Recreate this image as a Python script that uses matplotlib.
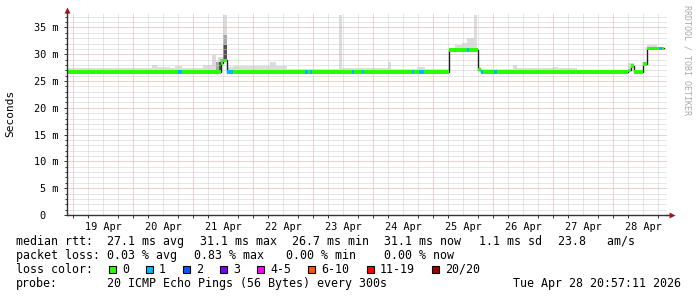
import numpy as np
import matplotlib
matplotlib.use("Agg")
import matplotlib.pyplot as plt
from matplotlib.patches import Rectangle

# time is in hours since 19 Apr 00:00; graph covers 240 h up to 28 Apr 20:57
t_left, t_right = -2.4, 237.6
t_last = 236.4

day_labels = ["19 Apr", "20 Apr", "21 Apr", "22 Apr", "23 Apr",
              "24 Apr", "25 Apr", "26 Apr", "27 Apr", "28 Apr"]

# median rtt (ms), step changes
med_t = [-2.4, 59.2, 60.0, 61.6, 150.4, 162.0, 163.2, 222.0, 223.2, 224.4, 228.0, 229.6]
med_ms = [26.7, 28.3, 28.9, 26.7, 30.8, 27.1, 26.7, 27.0, 27.8, 26.7, 28.2, 31.1]

# intervals with 1/20 packet loss (drawn blue)
loss_start = [42.0, 61.6, 92.8, 94.8, 111.6, 115.6, 135.6, 138.4, 157.6, 163.2, 168.4, 234.4]
loss_end = [43.6, 64.0, 94.0, 95.6, 112.4, 116.4, 136.4, 140.4, 158.4, 164.0, 169.6, 235.6]

# smoke: highest ping per interval (ms)
smoke_t = [-2.4, 31.6, 33.6, 38.8, 40.8, 43.6, 52.0, 55.6, 57.2, 58.0, 60.0, 61.6, 64.0,
           78.8, 81.2, 85.6, 106.4, 107.6, 126.0, 127.2, 137.6, 140.8, 150.4, 152.8,
           155.6, 157.6, 160.4, 161.6, 162.0, 163.2, 176.0, 177.6, 182.8, 192.0, 194.0,
           199.6, 201.6, 222.0, 224.4, 229.6, 233.6]
smoke_ms = [27.4, 28.0, 27.6, 27.4, 27.9, 27.4, 28.0, 29.9, 27.9, 29.5, 37.3, 27.6, 27.9,
            28.5, 27.8, 27.3, 37.3, 27.4, 28.5, 27.3, 27.6, 27.3, 31.2, 31.7,
            32.1, 33.0, 37.3, 31.2, 27.6, 27.3, 28.0, 27.4, 27.4, 27.6, 27.4,
            27.5, 27.0, 28.4, 27.0, 31.7, 31.4]

# denser smoke during the 21 Apr spike
mid_t = [-2.4, 57.2, 58.8, 60.0, 61.6]
mid_ms = [0.0, 28.6, 29.2, 33.6, 0.0]
dark_t = [-2.4, 58.4, 60.0, 61.6]
dark_ms = [0.0, 28.6, 31.7, 0.0]

loss_labels = ["0", "1", "2", "3", "4-5", "6-10", "11-19", "20/20"]
loss_colors = ["#26ff00", "#00b8ff", "#0059ff", "#7e00ff", "#ff00ff",
               "#ff5500", "#ff0000", "#a00000"]

stats_rtt = ["median rtt:  27.1 ms avg", "31.1 ms max", "26.7 ms min",
             "31.1 ms now", "1.1 ms sd", "23.8   am/s"]
stats_loss = ["packet loss: 0.03 % avg", "0.83 % max", "0.00 % min", "0.00 % now"]


def step_val(tt, t_pts, v_pts):
    idx = np.searchsorted(t_pts, tt, side="right") - 1
    return np.asarray(v_pts, dtype=float)[np.clip(idx, 0, None)]


plt.rcParams["font.family"] = "DejaVu Sans Mono"

W, H = 697, 297
fig = plt.figure(figsize=(W / 100, H / 100), dpi=100)
fig.patch.set_facecolor("white")
ax = fig.add_axes([67 / W, 82 / H, 600 / W, 202 / H])
ax.set_xlim(t_left, t_right)
ax.set_ylim(0, 37.7)

# grid
px = 0.72
for h in np.arange(0, t_right, 6):
    major = h % 24 == 0
    ax.axvline(h, color="#dca6a6" if major else "#cfcfcf", lw=px,
               ls=(0, (1, 1)), zorder=2)
for v in range(1, 38):
    major = v % 5 == 0
    ax.axhline(v, color="#dca6a6" if major else "#cfcfcf", lw=px,
               ls=(0, (1, 1)), zorder=2)

tt = np.union1d(np.union1d(med_t, smoke_t), np.union1d(mid_t, dark_t))
tt = np.append(tt[tt < t_last], t_last)
med = step_val(tt, med_t, med_ms)
top = np.maximum(step_val(tt, smoke_t, smoke_ms), med)
mid = np.maximum(step_val(tt, mid_t, mid_ms), med)
dark = np.maximum(step_val(tt, dark_t, dark_ms), med)

ax.fill_between(tt, med - 0.15, top, step="post", color="#dcdcdc", lw=0, zorder=1)
ax.fill_between(tt, med - 0.15, mid, step="post", color="#a8a8a8", lw=0, zorder=1.1)
ax.fill_between(tt, med - 0.15, dark, step="post", color="#505050", lw=0, zorder=1.2)

ax.step(tt, med, where="post", color="#202020", lw=1.0, zorder=3)
sw = 0.3
ax.fill_between(tt, med - sw, med + sw, step="post", color=loss_colors[0], lw=0, zorder=4)
for a, b in zip(loss_start, loss_end):
    m = step_val(np.array([a]), med_t, med_ms)[0]
    ax.fill_between([a, b], m - sw, m + sw, color=loss_colors[1], lw=0, zorder=5)

# axes
for s in ["top", "right"]:
    ax.spines[s].set_visible(False)
for s in ["left", "bottom"]:
    ax.spines[s].set_color("#333333")
    ax.spines[s].set_linewidth(1.0)
    ax.spines[s].set_zorder(6)
ax.plot([1.0, 1.008], [0, 0], transform=ax.transAxes, color="#333333", lw=1.0, clip_on=False)
ax.plot([1.008], [0], transform=ax.transAxes, marker=">", ms=4, color="#a01818",
        clip_on=False, mec="none")
ax.plot([0, 0], [1.0, 1.01], transform=ax.transAxes, color="#333333", lw=1.0, clip_on=False)
ax.plot([0], [1.015], transform=ax.transAxes, marker="^", ms=4, color="#a01818",
        clip_on=False, mec="none")

noons = [12 + 24 * i for i in range(len(day_labels))]
ax.set_xticks(noons, day_labels)
ax.set_xticks(np.arange(0, t_right, 6), minor=True)
ax.tick_params(axis="x", which="major", length=0, pad=5, labelsize=7.4)
ax.tick_params(axis="x", which="minor", length=2, width=0.7, color="#333333", direction="out")

yt = list(range(0, 36, 5))
ax.set_yticks(yt, ["0  "] + [f"{v} m" for v in yt[1:]])
ax.set_yticks(range(0, 38), minor=True)
ax.tick_params(axis="y", which="major", length=2, width=0.7, color="#333333", pad=4,
               labelsize=7.4)
ax.tick_params(axis="y", which="minor", length=1.5, width=0.7, color="#333333")

fig.text(10 / W, 1 - 113 / H, "Seconds", rotation=90, ha="center", va="center", fontsize=8)
fig.text(687 / W, 1 - 5 / H, "RRDTOOL / TOBI OETIKER", rotation=270, ha="center",
         va="top", fontsize=6, color="#aaaaaa")

# legend / stats lines
fs = 8.4
rtt_x = [16, 200, 292, 384, 479, 558]
for s, x in zip(stats_rtt, rtt_x):
    fig.text(x / W, 1 - 245 / H, s, fontsize=fs, va="baseline")
loss_x = [16, 194, 286, 384]
for s, x in zip(stats_loss, loss_x):
    fig.text(x / W, 1 - 259 / H, s, fontsize=fs, va="baseline")

fig.text(16 / W, 1 - 273 / H, "loss color:", fontsize=fs, va="baseline")
bx = 109
for lab, col in zip(loss_labels, loss_colors):
    fig.add_artist(Rectangle((bx / W, 1 - 272.5 / H), 7 / W, 7 / H, transform=fig.transFigure,
                             facecolor=col, edgecolor="black", lw=0.8))
    fig.text((bx + 13) / W, 1 - 273 / H, lab, fontsize=fs, va="baseline")
    bx = bx + 13 + len(lab) * 7.05 + 17

fig.text(16 / W, 1 - 287 / H, "probe:", fontsize=fs, va="baseline")
fig.text(107 / W, 1 - 287 / H, "20 ICMP Echo Pings (56 Bytes) every 300s", fontsize=fs,
         va="baseline")
fig.text(513 / W, 1 - 287 / H, "Tue Apr 28 20:57:11 2026", fontsize=fs, va="baseline")

fig.savefig("out.png", dpi=100, facecolor="white")
